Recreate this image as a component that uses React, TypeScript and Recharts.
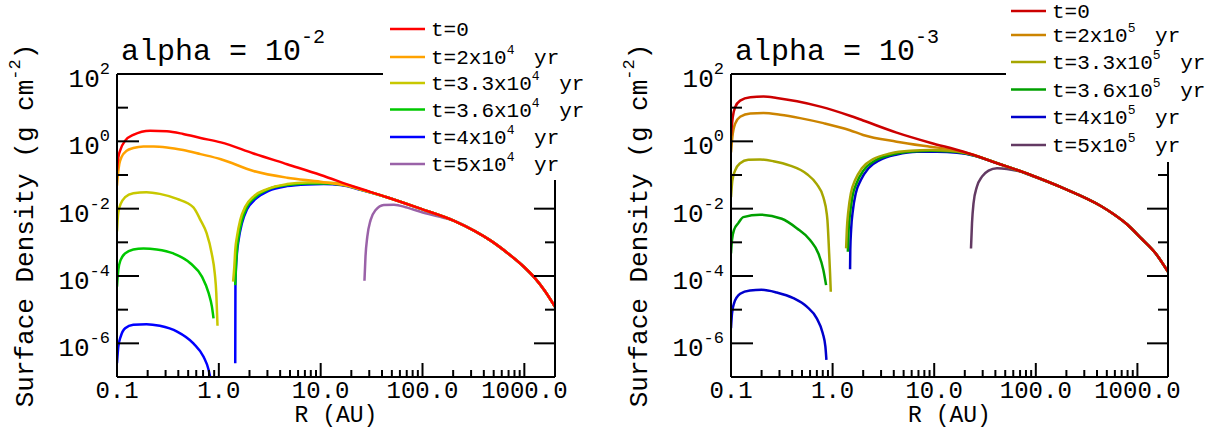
import React from "react";
import { LineChart, Line, XAxis, YAxis, Legend } from "recharts";

const FONT = '"Liberation Mono", "DejaVu Sans Mono", monospace';
const H = 430;

// Axis ticks: decades get labels, the rest are minor marks
const R_TICKS = [
  0.1, 0.2, 0.3, 0.4, 0.5, 0.6, 0.7, 0.8, 0.9,
  1, 2, 3, 4, 5, 6, 7, 8, 9,
  10, 20, 30, 40, 50, 60, 70, 80, 90,
  100, 200, 300, 400, 500, 600, 700, 800, 900,
  1000,
];
const R_DOMAIN = [0.1, 2000];
const SIGMA_EXPONENTS = [-6, -5, -4, -3, -2, -1, 0, 1, 2];
const SIGMA_DOMAIN = [1e-7, 100];

// ---- alpha = 1e-2 run: log10 R [AU] / log10 Sigma [g cm^-2] along each curve ----
const A2_T0_R = [-1.0, -0.987, -0.964, -0.92, -0.84, -0.675, -0.51, -0.35, -0.18, 0.02, 0.34, 0.67, 1.0, 1.33];
const A2_T0_S = [-0.87, -0.475, -0.23, 0.02, 0.19, 0.316, 0.3, 0.22, 0.1, -0.03, -0.36, -0.68, -1.0, -1.35];
// outer tail shared by every curve once it rejoins t=0
const A2_TAIL_R = [1.65, 1.98, 2.31, 2.51, 2.67, 2.84, 3.0, 3.1, 3.2, 3.3];
const A2_TAIL_S = [-1.66, -2.0, -2.36, -2.66, -2.95, -3.33, -3.74, -4.05, -4.44, -4.91];

const A2_T2_R = [-1.0, -0.99, -0.977, -0.954, -0.905, -0.84, -0.74, -0.64, -0.51, -0.35, -0.18, 0.02, 0.34, 0.67, 1.0, 1.26, 1.39];
const A2_T2_S = [-1.32, -0.97, -0.67, -0.46, -0.28, -0.2, -0.15, -0.15, -0.18, -0.26, -0.38, -0.53, -0.88, -1.08, -1.2, -1.32, -1.43];

const A2_T33_IN_R = [-1.0, -0.995, -0.987, -0.964, -0.92, -0.84, -0.71, -0.58, -0.41, -0.25, -0.18, -0.12, -0.07, -0.04, -0.025, -0.013];
const A2_T33_IN_S = [-2.68, -2.4, -2.11, -1.86, -1.66, -1.54, -1.51, -1.56, -1.71, -1.96, -2.34, -2.73, -3.33, -3.92, -4.51, -5.48];
const A2_T33_OUT_R = [0.14, 0.152, 0.161, 0.178, 0.21, 0.26, 0.34, 0.473, 0.67, 0.866, 1.0, 1.196, 1.39];
const A2_T33_OUT_S = [-4.17, -3.72, -3.23, -2.83, -2.34, -1.94, -1.64, -1.42, -1.27, -1.22, -1.22, -1.25, -1.42];

const A2_T36_IN_R = [-1.0, -0.987, -0.964, -0.92, -0.84, -0.74, -0.61, -0.446, -0.28, -0.166, -0.1, -0.068, -0.052];
const A2_T36_IN_S = [-4.32, -3.82, -3.52, -3.33, -3.21, -3.18, -3.21, -3.33, -3.62, -4.02, -4.51, -4.91, -5.26];
const A2_T36_OUT_R = [0.161, 0.168, 0.178, 0.194, 0.227, 0.277, 0.358, 0.489, 0.67, 0.866, 1.03, 1.196, 1.39];
const A2_T36_OUT_S = [-4.27, -3.72, -3.23, -2.83, -2.34, -1.94, -1.66, -1.42, -1.3, -1.25, -1.25, -1.28, -1.43];

const A2_T4_IN_R = [-1.0, -0.987, -0.964, -0.92, -0.84, -0.71, -0.58, -0.41, -0.25, -0.15, -0.1, -0.085];
const A2_T4_IN_S = [-6.59, -6.1, -5.8, -5.55, -5.45, -5.43, -5.48, -5.65, -6.0, -6.4, -6.79, -7.0];
const A2_T4_OUT_R = [0.161, 0.163, 0.178, 0.194, 0.227, 0.277, 0.358, 0.489, 0.67, 0.866, 1.03, 1.196, 1.39];
const A2_T4_OUT_S = [-6.59, -4.22, -3.33, -2.93, -2.43, -2.02, -1.72, -1.47, -1.33, -1.28, -1.27, -1.3, -1.44];

const A2_T5_R = [1.43, 1.44, 1.458, 1.49, 1.54, 1.62, 1.72, 1.85, 1.98, 2.15];
const A2_T5_S = [-4.14, -3.43, -2.83, -2.34, -2.04, -1.89, -1.88, -1.97, -2.09, -2.23];

// ---- alpha = 1e-3 run ----
const A3_T0_R = [-1.0, -0.983, -0.96, -0.91, -0.81, -0.68, -0.55, -0.35, -0.12, 0.17, 0.3, 0.63, 0.96, 1.29];
const A3_T0_S = [0.17, 0.71, 1.01, 1.21, 1.31, 1.33, 1.29, 1.19, 1.03, 0.76, 0.62, 0.26, -0.04, -0.31];
const A3_TAIL_R = [1.62, 1.95, 2.27, 2.64, 2.76, 2.9, 3.03, 3.18, 3.3];
const A3_TAIL_S = [-0.65, -1.0, -1.39, -1.92, -2.15, -2.47, -2.86, -3.33, -3.87];

const A3_T2_R = [-1.0, -0.987, -0.96, -0.91, -0.81, -0.68, -0.517, -0.32, -0.09, 0.17, 0.3, 0.63, 0.96, 1.224, 1.35];
const A3_T2_S = [-0.33, 0.12, 0.52, 0.73, 0.83, 0.84, 0.79, 0.69, 0.54, 0.33, 0.19, -0.01, -0.16, -0.27, -0.37];

const A3_T33_IN_R = [-1.0, -0.987, -0.96, -0.91, -0.83, -0.714, -0.583, -0.419, -0.254, -0.156, -0.091, -0.057, -0.051, -0.034, -0.025, -0.018];
const A3_T33_IN_S = [-1.66, -1.17, -0.87, -0.65, -0.55, -0.54, -0.59, -0.72, -0.97, -1.27, -1.66, -2.16, -2.34, -3.33, -3.92, -4.47];
const A3_T33_OUT_R = [0.133, 0.14, 0.156, 0.18, 0.222, 0.288, 0.4, 0.567, 0.764, 0.96, 1.158, 1.355];
const A3_T33_OUT_S = [-3.18, -2.63, -2.04, -1.54, -1.15, -0.8, -0.53, -0.36, -0.28, -0.26, -0.28, -0.38];

const A3_T36_IN_R = [-1.0, -0.99, -0.97, -0.928, -0.879, -0.714, -0.5, -0.353, -0.222, -0.14, -0.091, -0.064];
const A3_T36_IN_S = [-3.33, -2.93, -2.63, -2.43, -2.25, -2.18, -2.3, -2.58, -2.93, -3.33, -3.82, -4.27];
const A3_T36_OUT_R = [0.15, 0.156, 0.172, 0.195, 0.238, 0.303, 0.419, 0.583, 0.78, 0.977, 1.174, 1.355];
const A3_T36_OUT_S = [-3.28, -2.73, -2.14, -1.64, -1.23, -0.87, -0.57, -0.39, -0.3, -0.28, -0.3, -0.39];

const A3_T4_IN_R = [-1.0, -0.99, -0.97, -0.91, -0.813, -0.698, -0.55, -0.386, -0.254, -0.156, -0.097, -0.071, -0.061];
const A3_T4_IN_S = [-5.55, -5.11, -4.81, -4.53, -4.43, -4.41, -4.49, -4.66, -4.91, -5.26, -5.7, -6.1, -6.49];
const A3_T4_OUT_R = [0.172, 0.174, 0.182, 0.2, 0.228, 0.278, 0.353, 0.468, 0.633, 0.83, 1.027, 1.224, 1.387];
const A3_T4_OUT_S = [-3.8, -3.23, -2.63, -2.04, -1.54, -1.15, -0.8, -0.55, -0.39, -0.31, -0.31, -0.34, -0.42];

const A3_T5_R = [1.362, 1.372, 1.387, 1.42, 1.47, 1.535, 1.618, 1.716, 1.847, 1.978];
const A3_T5_S = [-3.18, -2.43, -1.84, -1.35, -1.05, -0.87, -0.8, -0.82, -0.9, -1.05];

type Pt = { r: number; s: number };

const pts = (r: number[], s: number[]): Pt[] => r.map((lr, i) => ({ r: 10 ** lr, s: 10 ** s[i] }));

// append the shared outer tail past the last point of a curve
const withTail = (r: number[], s: number[], tr: number[], ts: number[]): Pt[] => {
  const last = r[r.length - 1];
  const i = tr.findIndex((v) => v > last);
  return pts([...r, ...tr.slice(i)], [...s, ...ts.slice(i)]);
};

type Series = { key: string; color: string; pre: string; sup?: string; segs: Pt[][] };

type PanelSpec = {
  id: string;
  left: number;
  width: number;
  yLeft: number;
  yRight: number;
  alphaExp: string;
  legend: { x: number; w: number; h: number; rows: number[]; line: [number, number]; text: number };
  series: Series[];
};

const LEFT: PanelSpec = {
  id: "a2",
  left: 0,
  width: 600,
  yLeft: 117,
  yRight: 45,
  alphaExp: "-2",
  legend: { x: 383, w: 217, h: 180, rows: [29, 57, 83, 109.5, 137, 164], line: [7, 42], text: 48 },
  series: [
    { key: "t0", color: "#ff0000", pre: "t=0", segs: [withTail(A2_T0_R, A2_T0_S, A2_TAIL_R, A2_TAIL_S)] },
    { key: "t2", color: "#ffa200", pre: "t=2x10", sup: "4", segs: [withTail(A2_T2_R, A2_T2_S, A2_TAIL_R, A2_TAIL_S)] },
    {
      key: "t33", color: "#c8c800", pre: "t=3.3x10", sup: "4",
      segs: [pts(A2_T33_IN_R, A2_T33_IN_S), withTail(A2_T33_OUT_R, A2_T33_OUT_S, A2_TAIL_R, A2_TAIL_S)],
    },
    {
      key: "t36", color: "#00c800", pre: "t=3.6x10", sup: "4",
      segs: [pts(A2_T36_IN_R, A2_T36_IN_S), withTail(A2_T36_OUT_R, A2_T36_OUT_S, A2_TAIL_R, A2_TAIL_S)],
    },
    {
      key: "t4", color: "#0000ff", pre: "t=4x10", sup: "4",
      segs: [pts(A2_T4_IN_R, A2_T4_IN_S), withTail(A2_T4_OUT_R, A2_T4_OUT_S, A2_TAIL_R, A2_TAIL_S)],
    },
    { key: "t5", color: "#9a62a8", pre: "t=5x10", sup: "4", segs: [withTail(A2_T5_R, A2_T5_S, A2_TAIL_R, A2_TAIL_S)] },
  ],
};

const RIGHT: PanelSpec = {
  id: "a3",
  left: 600,
  width: 605,
  yLeft: 131,
  yRight: 37,
  alphaExp: "-3",
  legend: { x: 406, w: 199, h: 162, rows: [11, 35, 62, 89.5, 117, 145], line: [5, 40], text: 46 },
  series: [
    { key: "t0", color: "#cc0000", pre: "t=0", segs: [withTail(A3_T0_R, A3_T0_S, A3_TAIL_R, A3_TAIL_S)] },
    { key: "t2", color: "#cc8400", pre: "t=2x10", sup: "5", segs: [withTail(A3_T2_R, A3_T2_S, A3_TAIL_R, A3_TAIL_S)] },
    {
      key: "t33", color: "#a6a600", pre: "t=3.3x10", sup: "5",
      segs: [pts(A3_T33_IN_R, A3_T33_IN_S), withTail(A3_T33_OUT_R, A3_T33_OUT_S, A3_TAIL_R, A3_TAIL_S)],
    },
    {
      key: "t36", color: "#00a000", pre: "t=3.6x10", sup: "5",
      segs: [pts(A3_T36_IN_R, A3_T36_IN_S), withTail(A3_T36_OUT_R, A3_T36_OUT_S, A3_TAIL_R, A3_TAIL_S)],
    },
    {
      key: "t4", color: "#0000cc", pre: "t=4x10", sup: "5",
      segs: [pts(A3_T4_IN_R, A3_T4_IN_S), withTail(A3_T4_OUT_R, A3_T4_OUT_S, A3_TAIL_R, A3_TAIL_S)],
    },
    { key: "t5", color: "#633a63", pre: "t=5x10", sup: "5", segs: [withTail(A3_T5_R, A3_T5_S, A3_TAIL_R, A3_TAIL_S)] },
  ],
};

const AXIS = { stroke: "#000", strokeWidth: 2 };
const isDecade = (v: number) => Math.abs(Math.log10(v) - Math.round(Math.log10(v))) < 1e-6;

// tick marks point into the plot; labels sit outside
function RTick(props: any) {
  const { x, y, payload, side } = props;
  const major = isDecade(payload.value);
  const len = major ? 14 : 7;
  if (side === "top") {
    return <line x1={x} x2={x} y1={y} y2={y + len} stroke="#000" strokeWidth={2} />;
  }
  return (
    <g>
      <line x1={x} x2={x} y1={y} y2={y - len} stroke="#000" strokeWidth={2} />
      {major && (
        <text x={x} y={y + 21} textAnchor="middle" fontFamily={FONT} fontSize={24} fill="#000">
          {payload.value.toFixed(1)}
        </text>
      )}
    </g>
  );
}

function STick(props: any) {
  const { x, y, payload, side } = props;
  const exp = Math.round(Math.log10(payload.value));
  const major = exp % 2 === 0;
  if (side === "right") {
    const len = major ? 21 : 10;
    return <line x1={x} x2={x - len} y1={y} y2={y} stroke="#000" strokeWidth={2} />;
  }
  const len = major ? 22 : 11;
  return (
    <g>
      <line x1={x} x2={x + len} y1={y} y2={y} stroke="#000" strokeWidth={2} />
      {major && (
        <text x={x - 7} y={y + 13} textAnchor="end" fontFamily={FONT} fontSize={26} fill="#000">
          10<tspan dy={-13} fontSize={17}>{exp}</tspan>
        </text>
      )}
    </g>
  );
}

function LegendBox({ p }: { p: PanelSpec }) {
  const { w, h, rows, line, text } = p.legend;
  return (
    <svg width={w} height={h} style={{ display: "block" }}>
      <rect x={0} y={0} width={w} height={h} fill="#fff" />
      {p.series.map((s, i) => (
        <g key={s.key}>
          <line x1={line[0]} x2={line[1]} y1={rows[i]} y2={rows[i]} stroke={s.color} strokeWidth={2.5} />
          <text x={text} y={rows[i] + 7} fontFamily={FONT} fontSize={21} fill="#000">
            {s.pre}
            {s.sup && (
              <tspan dy={-10} fontSize={13}>
                {s.sup}
              </tspan>
            )}
            {s.sup && (
              <tspan dy={10} dx={7}>
                {" yr"}
              </tspan>
            )}
          </text>
        </g>
      ))}
    </svg>
  );
}

function Panel({ p }: { p: PanelSpec }) {
  const plotLeft = p.yLeft;
  const plotRight = p.width - p.yRight;
  const plotTop = 74;
  const plotBottom = 377;
  const midY = (plotTop + plotBottom) / 2;
  // later times first so t=0 ends up on top where curves coincide
  const drawOrder = [...p.series].reverse();

  return (
    <LineChart width={p.width} height={H} margin={{ top: 0, right: 0, bottom: 0, left: 0 }}>
      <XAxis
        xAxisId="b"
        orientation="bottom"
        type="number"
        dataKey="r"
        scale="log"
        domain={R_DOMAIN}
        allowDataOverflow
        ticks={R_TICKS}
        interval={0}
        height={H - plotBottom}
        tickSize={0}
        tickMargin={0}
        tickLine={false}
        axisLine={AXIS}
        tick={(t: any) => <RTick {...t} side="bottom" />}
      />
      <XAxis
        xAxisId="t"
        orientation="top"
        type="number"
        scale="log"
        domain={R_DOMAIN}
        allowDataOverflow
        ticks={R_TICKS}
        interval={0}
        height={plotTop}
        tickSize={0}
        tickMargin={0}
        tickLine={false}
        axisLine={AXIS}
        tick={(t: any) => <RTick {...t} side="top" />}
      />
      <YAxis
        yAxisId="l"
        orientation="left"
        type="number"
        scale="log"
        domain={SIGMA_DOMAIN}
        allowDataOverflow
        ticks={SIGMA_EXPONENTS.map((e) => 10 ** e)}
        interval={0}
        width={p.yLeft}
        tickSize={0}
        tickMargin={0}
        tickLine={false}
        axisLine={AXIS}
        tick={(t: any) => <STick {...t} side="left" />}
      />
      <YAxis
        yAxisId="r"
        orientation="right"
        type="number"
        scale="log"
        domain={SIGMA_DOMAIN}
        allowDataOverflow
        ticks={SIGMA_EXPONENTS.map((e) => 10 ** e)}
        interval={0}
        width={p.yRight}
        tickSize={0}
        tickMargin={0}
        tickLine={false}
        axisLine={AXIS}
        tick={(t: any) => <STick {...t} side="right" />}
      />

      {drawOrder.flatMap((s) =>
        s.segs.map((seg, j) => (
          <Line
            key={`${p.id}-${s.key}-${j}`}
            data={seg}
            dataKey="s"
            xAxisId="b"
            yAxisId="l"
            type="monotone"
            stroke={s.color}
            strokeWidth={2.5}
            dot={false}
            activeDot={false}
            legendType="none"
            isAnimationActive={false}
          />
        ))
      )}

      <text x={plotLeft + 4} y={60} fontFamily={FONT} fontSize={30} fill="#000">
        alpha = 10<tspan dy={-17} fontSize={20}>{p.alphaExp}</tspan>
      </text>
      <text
        x={(plotLeft + plotRight) / 2}
        y={422}
        textAnchor="middle"
        fontFamily={FONT}
        fontSize={23}
        fill="#000"
      >
        R (AU)
      </text>
      <text
        transform={`translate(${plotLeft - 91},${midY}) rotate(-90)`}
        textAnchor="middle"
        dominantBaseline="central"
        fontFamily={FONT}
        fontSize={26}
        fill="#000"
      >
        Surface Density (g cm<tspan dy={-11} fontSize={17}>-2</tspan>
        <tspan dy={11}>)</tspan>
      </text>

      <Legend
        layout="horizontal"
        verticalAlign="middle"
        align="center"
        width={p.legend.w}
        height={p.legend.h}
        wrapperStyle={{ left: p.legend.x, top: 0, width: p.legend.w, height: p.legend.h }}
        content={() => <LegendBox p={p} />}
      />
    </LineChart>
  );
}

export default function App() {
  return (
    <div style={{ position: "absolute", left: 0, top: 0, width: 1205, height: H, background: "#fff" }}>
      {[LEFT, RIGHT].map((p) => (
        <div key={p.id} style={{ position: "absolute", left: p.left, top: 0, width: p.width, height: H }}>
          <Panel p={p} />
        </div>
      ))}
    </div>
  );
}
